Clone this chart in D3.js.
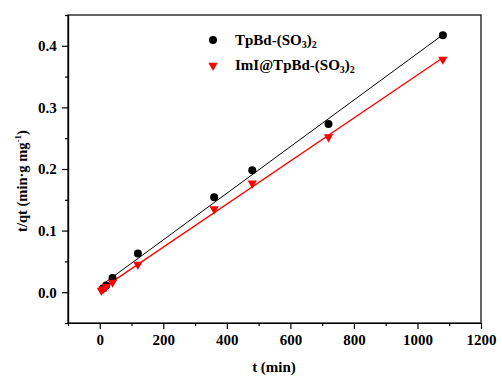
<!DOCTYPE html>
<html><head><meta charset="utf-8">
<script src="https://cdn.jsdelivr.net/npm/d3@7"></script>
<style>body{margin:0;background:#fff}svg{display:block}text{font-family:"Liberation Serif","Times New Roman",serif;font-weight:bold}</style>
</head><body><svg id="c" width="502" height="379"></svg>
<script>
const blackT = [10, 20, 40, 120, 360, 480, 720, 1080];
const blackV = [0.006, 0.011, 0.023, 0.063, 0.154, 0.198, 0.273, 0.417];
const redT = [5, 10, 20, 40, 120, 360, 480, 720, 1080];
const redV = [0.003, 0.005, 0.009, 0.016, 0.045, 0.135, 0.177, 0.252, 0.378];
const xTicks = [0, 200, 400, 600, 800, 1000, 1200];
const yTicks = [0.0, 0.1, 0.2, 0.3, 0.4];

const svg = d3.select("#c");
const L = 68, R = 481, T = 15, B = 323;
const x = d3.scaleLinear().domain([-100, 1200]).range([L, R]);
const y = d3.scaleLinear().domain([-0.05, 0.45]).range([B, T]);

// frame
svg.append("rect").attr("x", L).attr("y", T).attr("width", R - L).attr("height", B - T)
  .attr("fill", "none").attr("stroke", "#000").attr("stroke-width", 1.2);

// axes
const xAx = svg.append("g").attr("transform", `translate(0,${B})`)
  .call(d3.axisBottom(x).tickValues(xTicks).tickFormat(d3.format("d")).tickSize(6).tickSizeOuter(0));
svg.append("g").attr("transform", `translate(0,${B})`)
  .call(d3.axisBottom(x).tickValues(d3.range(-100, 1200, 200)).tickFormat("").tickSize(3).tickSizeOuter(0));
const yAx = svg.append("g").attr("transform", `translate(${L},0)`)
  .call(d3.axisLeft(y).tickValues(yTicks).tickFormat(d3.format(".1f")).tickSize(6).tickSizeOuter(0));
svg.append("g").attr("transform", `translate(${L},0)`)
  .call(d3.axisLeft(y).tickValues([-0.05, 0.05, 0.15, 0.25, 0.35, 0.45]).tickFormat("").tickSize(3).tickSizeOuter(0));
svg.selectAll(".domain").attr("stroke", "#000").attr("stroke-width", 1.2);
svg.selectAll(".tick line").attr("stroke", "#000").attr("stroke-width", 1.2);
xAx.selectAll("text").attr("font-size", 15).attr("font-family", "Liberation Serif").attr("font-weight", "bold").attr("dy", "0.87em");
yAx.selectAll("text").attr("font-size", 15).attr("font-family", "Liberation Serif").attr("font-weight", "bold").attr("dx", "-0.15em");

// fits
function fit(ts, vs) {
  const n = ts.length, mx = d3.mean(ts), my = d3.mean(vs);
  let sxy = 0, sxx = 0;
  for (let i = 0; i < n; i++) { sxy += (ts[i]-mx)*(vs[i]-my); sxx += (ts[i]-mx)**2; }
  const b = sxy / sxx, a = my - b * mx;
  return [[d3.min(ts), a + b * d3.min(ts)], [d3.max(ts), a + b * d3.max(ts)]];
}
const line = d3.line().x(d => x(d[0])).y(d => y(d[1]));
svg.append("path").attr("d", line(fit(blackT, blackV))).attr("stroke", "#000").attr("stroke-width", 1).attr("fill", "none");
svg.append("path").attr("d", line(fit(redT, redV))).attr("stroke", "#ff0000").attr("stroke-width", 1.3).attr("fill", "none");

// points
svg.append("g").selectAll("circle").data(blackT.map((t, i) => [t, blackV[i]])).join("circle")
  .attr("cx", d => x(d[0])).attr("cy", d => y(d[1])).attr("r", 4).attr("fill", "#000");
const tri = d3.symbol().type(d3.symbolTriangle).size(38);
svg.append("g").selectAll("path").data(redT.map((t, i) => [t, redV[i]])).join("path")
  .attr("d", tri).attr("transform", d => `translate(${x(d[0])},${y(d[1])}) rotate(180)`).attr("fill", "#ff0000");

// legend
svg.append("circle").attr("cx", 213).attr("cy", 40).attr("r", 4).attr("fill", "#000");
svg.append("path").attr("d", tri).attr("transform", "translate(213,65.5) rotate(180)").attr("fill", "#ff0000");
function chem(xx, yy, parts) {
  const tx = svg.append("text").attr("x", xx).attr("y", yy).attr("font-size", 15);
  parts.forEach(p => {
    if (p.sub) tx.append("tspan").attr("font-size", 10).attr("dy", 3).text(p.s);
    else tx.append("tspan").attr("dy", p.back ? -3 : 0).text(p.s);
  });
}
chem(235, 45, [{s: "TpBd-(SO"}, {s: "3", sub: true}, {s: ")", back: true}, {s: "2", sub: true}]);
chem(235, 70, [{s: "ImI@TpBd-(SO"}, {s: "3", sub: true}, {s: ")", back: true}, {s: "2", sub: true}]);

// axis titles
svg.append("text").attr("x", 274).attr("y", 372).attr("text-anchor", "middle").attr("font-size", 15).text("t (min)");
const yt = svg.append("text").attr("transform", "translate(27,181) rotate(-90)").attr("text-anchor", "middle").attr("font-size", 14.5);
yt.append("tspan").text("t/qt (min·g mg");
yt.append("tspan").attr("font-size", 9).attr("dy", -6).text("-1");
yt.append("tspan").attr("dy", 6).text(")");
</script></body></html>
